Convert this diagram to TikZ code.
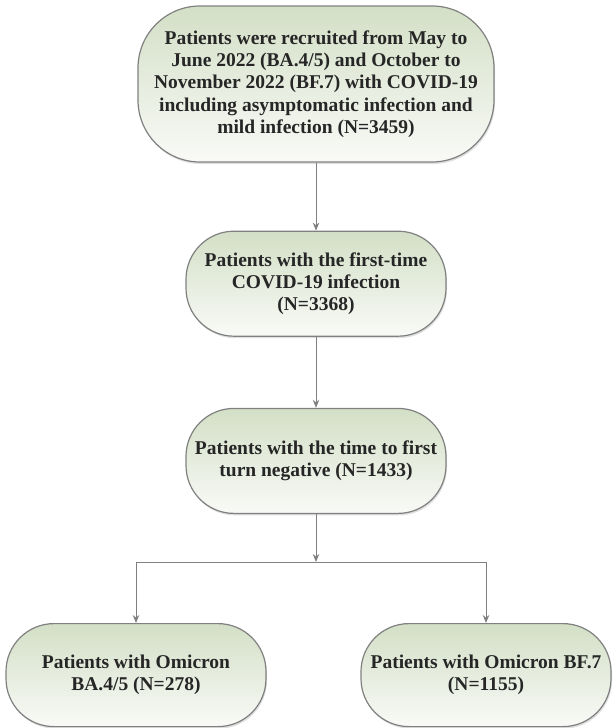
\documentclass[tikz,border=0pt]{standalone}
\usepackage{fontspec}
\setmainfont{Liberation Serif}
\usetikzlibrary{positioning,arrows.meta,shadows}

\begin{document}
\begin{tikzpicture}[node distance=68pt]

        % 定义样式
        \tikzstyle{patient} = [rectangle, rounded corners=48pt, minimum width=260pt, minimum height=105pt, inner sep=0pt, align=center, text=black!85, draw=black!50, line width=1.2pt, top color={rgb,255:red,211;green,223;blue,198}, bottom color={rgb,255:red,249;green,250;blue,247}, font=\fontsize{19.5}{22.3}\selectfont\bfseries, drop shadow={opacity=0.25, shadow xshift=1pt, shadow yshift=-2pt}]
        \tikzstyle{arrow} = [line width=1pt, draw=black!50, -{Stealth[length=8pt, width=6.5pt]}]

        \useasboundingbox (0,0) rectangle (614pt,-728pt);

        % 创建节点
        \node (recruit) [patient, minimum width=356pt, minimum height=156pt, rounded corners=62pt] at (316pt,-84pt) {Patients were recruited from May to\\June 2022 (BA.4/5) and October to\\November 2022 (BF.7) with COVID-19\\including asymptomatic infection and\\mild infection (N=3459)};
        \node (firsttime) [patient, below=of recruit] {Patients with the first-time\\COVID-19 infection\\(N=3368)};
        \node (negative) [patient, below=71pt of firsttime] {Patients with the time to first\\turn negative (N=1433)};
        \coordinate [below=48pt of negative] (split);
        \node (ba) [patient, below=109pt of negative, xshift=-180pt, minimum height=103pt] {Patients with Omicron\\BA.4/5 (N=278)};
        \node (bf) [patient, below=109pt of negative, xshift=170pt, minimum width=250pt, minimum height=103pt] {Patients with Omicron BF.7\\(N=1155)};

        % 连接节点
        \draw [arrow] (recruit) -- (firsttime);
        \draw [arrow] (firsttime) -- (negative);
        \draw [arrow] (negative) -- (split);
        \draw [arrow] (split) -| (ba);
        \draw [arrow] (split) -| (bf);

    \end{tikzpicture}
\end{document}
